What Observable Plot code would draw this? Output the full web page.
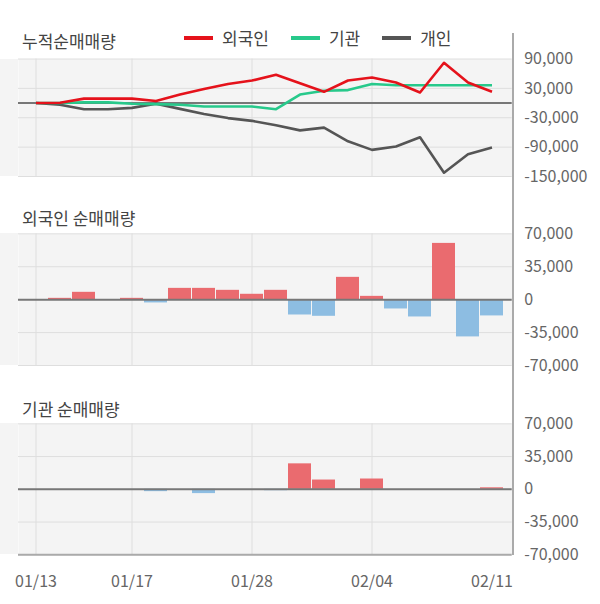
<!DOCTYPE html>
<html>
<head>
<meta charset="utf-8">
<script src="https://cdn.jsdelivr.net/npm/d3@7"></script>
<script src="https://cdn.jsdelivr.net/npm/@observablehq/plot@0.6"></script>
<style>
  html, body { margin: 0; padding: 0; background: #fff; }
  #root { position: relative; width: 600px; height: 604px; overflow: hidden; background: #fff;
          font-family: "Noto Sans CJK KR", "Noto Sans", sans-serif; }
  .panel { position: absolute; left: 0; }
  .title { position: absolute; left: 22px; font-size: 17px; line-height: 17px; color: #444; white-space: nowrap; }
  .legend { position: absolute; left: 184px; top: 29px; display: flex; align-items: center; font-size: 17px; line-height: 17px; color: #444; }
  .legend .item { display: flex; align-items: center; margin-right: 22px; }
  .legend .sw { width: 29px; height: 4px; margin-right: 9px; }
  .strip { position: absolute; left: 0; width: 18px; background: #f4f4f4; }
  .vaxis { position: absolute; left: 511.7px; top: 33px; width: 2px; height: 522px; background: #aaa; }
</style>
</head>
<body>
<div id="root"></div>
<script>
// ---------- data ----------
const dates = ["01/13","01/14","01/15","01/16","01/17","01/20","01/21","01/22","01/23","01/28",
               "01/29","01/30","01/31","02/03","02/04","02/05","02/06","02/07","02/10","02/11"];
const xTickLabels = ["01/13","01/17","01/28","02/04","02/11"];
const xGridDates = ["01/13","01/17","01/28","02/04"];

// cumulative net buying (panel 1)
const foreignCum = [0, 700, 9100, 9100, 9100, 4200, 17400, 28600, 39000, 46000,
                    57900, 40500, 23000, 46000, 52300, 41900, 21600, 82300, 41900, 23000];
const instCum    = [0, 0, 1400, 1400, -1400, -2100, -3500, -7000, -7000, -7000,
                    -12600, 17400, 25100, 26500, 39000, 36300, 36300, 36300, 36300, 36300];
const indivCum   = [0, -3500, -12600, -12600, -9800, -1400, -11900, -22300, -30700, -36300,
                    -45300, -55800, -50200, -78100, -95600, -88600, -69800, -142300, -104700, -90700];

// daily net buying
const foreignDaily = [0, 1400, 7800, 0, 1400, -3500, 12000, 12000, 9900, 5700,
                      9900, -16300, -17700, 23700, 3500, -9900, -18400, 59800, -39600, -17300];
const instDaily    = [0, 0, 0, 0, 0, -2500, 0, -4600, 0, 0,
                      -1500, 27200, 9900, 0, 11000, 0, 0, 0, 0, 1600];

const cumTicks = [90000, 30000, -30000, -90000, -150000];
const dailyTicks = [70000, 35000, 0, -35000, -70000];

const seriesNames = ["외국인", "기관", "개인"];
const seriesColors = ["#e5121b", "#27c98b", "#555555"];
const titles = ["누적순매매량", "외국인 순매매량", "기관 순매매량"];

// ---------- helpers ----------
const BG = "#f4f4f4", GRID = "#dedede", ZERO = "#777", POS = "#ea6b6f", NEG = "#8dbde2";
const fmt = d => d.toLocaleString("en-US");
const xScale = (axis) => ({
  type: "band", domain: dates, range: [23.7, 503.7],
  paddingInner: 0.05, paddingOuter: 0.025,
  axis: axis ? "bottom" : null, ticks: xTickLabels, tickSize: 0, tickPadding: 21, label: null
});
const baseStyle = { fontFamily: "Noto Sans CJK KR, Noto Sans, sans-serif", fontSize: "16px",
                    color: "#666", background: "transparent", overflow: "visible" };

const root = document.getElementById("root");
function place(el, top) { el.style.position = "absolute"; el.style.left = "0px"; el.style.top = top + "px"; root.appendChild(el); }

// ---------- panel 1: cumulative lines ----------
const cumData = dates.flatMap((d, i) => [
  {date: d, s: seriesNames[2], v: indivCum[i]},
  {date: d, s: seriesNames[1], v: instCum[i]},
  {date: d, s: seriesNames[0], v: foreignCum[i]}
]);
const p1 = Plot.plot({
  width: 600, height: 140, marginLeft: 18, marginRight: 88.3, marginTop: 10.5, marginBottom: 12,
  style: baseStyle,
  x: xScale(false),
  y: { domain: [-150000, 90000], axis: "right", ticks: cumTicks, tickSize: 0, tickPadding: 12, tickFormat: fmt, label: null },
  marks: [
    Plot.frame({ fill: BG, stroke: null }),
    Plot.ruleY(cumTicks, { stroke: GRID, strokeWidth: 1 }),
    Plot.ruleX(xGridDates, { stroke: GRID, strokeWidth: 1 }),
    Plot.ruleY([0], { stroke: ZERO, strokeWidth: 2 }),
    ...[2, 1, 0].map(k => Plot.line(cumData.filter(d => d.s === seriesNames[k]),
      { x: "date", y: "v", stroke: seriesColors[k], strokeWidth: 2.6, strokeLinejoin: "round", strokeLinecap: "butt" }))
  ]
});
place(p1, 48);

// ---------- bar panels ----------
function barPanel(values, top, height, marginBottom, showX) {
  const data = dates.map((d, i) => ({date: d, v: values[i]}));
  return Plot.plot({
    width: 600, height, marginLeft: 18, marginRight: 88.3, marginTop: 10.3, marginBottom,
    style: baseStyle,
    x: xScale(showX),
    y: { domain: [-70000, 70000], axis: "right", ticks: dailyTicks, tickSize: 0, tickPadding: 12, tickFormat: fmt, label: null },
    marks: [
      Plot.frame({ fill: BG, stroke: null }),
      Plot.ruleY(dailyTicks, { stroke: GRID, strokeWidth: 1 }),
      Plot.ruleX(xGridDates, { stroke: GRID, strokeWidth: 1 }),
      Plot.barY(data.filter(d => d.v > 0), { x: "date", y: "v", fill: POS }),
      Plot.barY(data.filter(d => d.v < 0), { x: "date", y: "v", fill: NEG }),
      Plot.ruleY([0], { stroke: ZERO, strokeWidth: 2 }),
      ...(showX ? [Plot.ruleY([-70000], { stroke: "#aaa", strokeWidth: 2 })] : [])
    ]
  });
}
place(barPanel(foreignDaily, 223, 152, 10, false), 223);
place(barPanel(instDaily, 413, 191, 49.7, true), 413);

// ---------- decorations: left background strips, axis line, titles, legend ----------
[[58.5, 117.5], [233.3, 131.7], [423.3, 131]].forEach(([t, h]) => {
  const s = document.createElement("div"); s.className = "strip";
  s.style.top = t + "px"; s.style.height = h + "px"; root.appendChild(s);
});
const vax = document.createElement("div"); vax.className = "vaxis"; root.appendChild(vax);

[[titles[0], 32], [titles[1], 208.5], [titles[2], 399.5]].forEach(([t, top]) => {
  const el = document.createElement("div"); el.className = "title"; el.textContent = t;
  el.style.top = top + "px"; root.appendChild(el);
});

const legend = document.createElement("div"); legend.className = "legend";
seriesNames.forEach((n, k) => {
  const it = document.createElement("div"); it.className = "item";
  const sw = document.createElement("div"); sw.className = "sw"; sw.style.background = seriesColors[k];
  const tx = document.createElement("span"); tx.textContent = n;
  it.appendChild(sw); it.appendChild(tx); legend.appendChild(it);
});
root.appendChild(legend);
</script>
</body>
</html>
